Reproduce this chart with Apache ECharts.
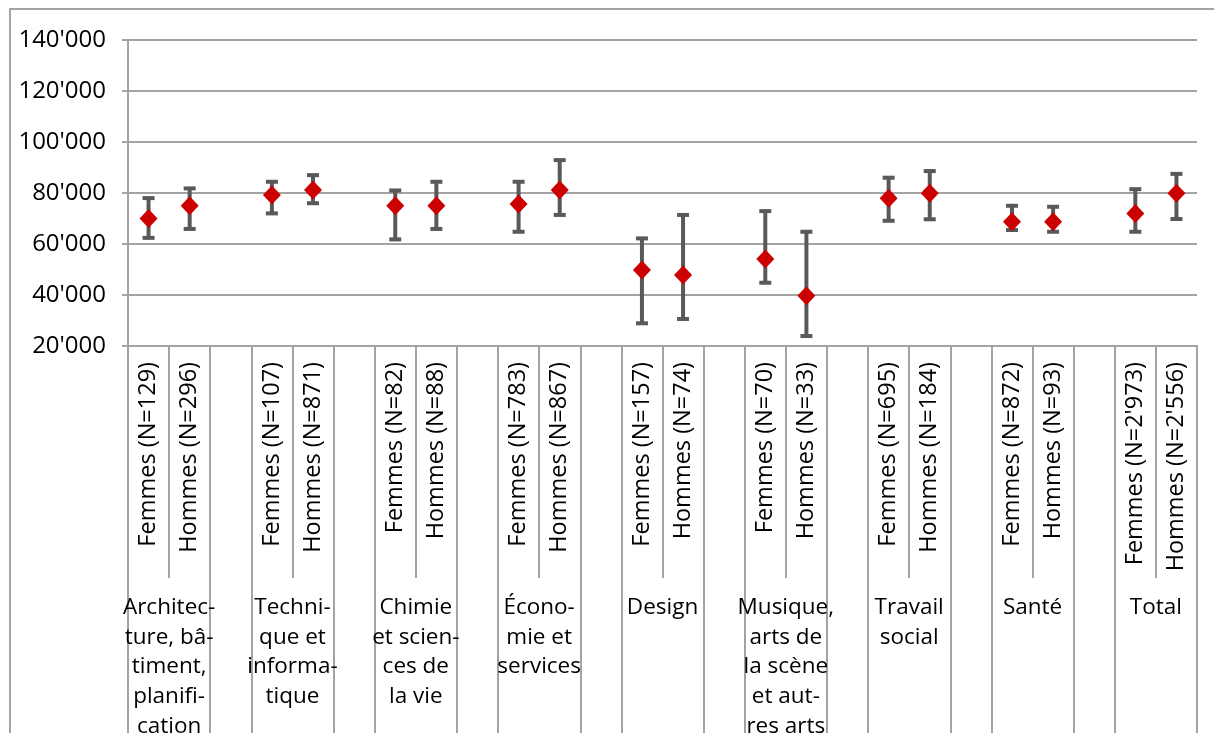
<!DOCTYPE html>
<html>
<head>
<meta charset="utf-8">
<script src="https://cdn.jsdelivr.net/npm/echarts@6/dist/echarts.min.js"></script>
<style>
html,body{margin:0;padding:0;background:#fff;}
#chart{width:1214px;height:733px;}
</style>
</head>
<body>
<div id="chart"></div>
<script>
const groups = [
  "Architec-\nture, bâ-\ntiment,\nplanifi-\ncation",
  "Techni-\nque et\ninforma-\ntique",
  "Chimie\net scien-\nces de\nla vie",
  "Écono-\nmie et\nservices",
  "Design",
  "Musique,\narts de\nla scène\net aut-\nres arts",
  "Travail\nsocial",
  "Santé",
  "Total"
];
const femmesN = ["129", "107", "82", "783", "157", "70", "695", "872", "2'973"];
const hommesN = ["296", "871", "88", "867", "74", "33", "184", "93", "2'556"];
const femmesMean = [70000, 79200, 75000, 75700, 49800, 54100, 77900, 68700, 72000];
const femmesLow  = [62400, 72000, 61800, 64800, 28900, 44800, 69100, 65500, 64800];
const femmesHigh = [78000, 84400, 81000, 84400, 62200, 72900, 86000, 75000, 81500];
const hommesMean = [75000, 81200, 75000, 81200, 47800, 39700, 79900, 68700, 79900];
const hommesLow  = [65900, 76000, 65900, 71400, 30600, 23900, 69700, 64800, 69800];
const hommesHigh = [81800, 87000, 84400, 92900, 71400, 64800, 88600, 74600, 87500];
const yMin = 20000, yMax = 140000, yStep = 20000;

// build slot categories: F, H, gap per group (no gap after last)
const slotLabels = [];
const meanData = [];
const errData = [];
groups.forEach((g, i) => {
  const f = slotLabels.length;
  slotLabels.push("Femmes (N=" + femmesN[i] + ")");
  slotLabels.push("Hommes (N=" + hommesN[i] + ")");
  meanData.push([f, femmesMean[i]]);
  meanData.push([f + 1, hommesMean[i]]);
  errData.push([f, femmesLow[i], femmesHigh[i]]);
  errData.push([f + 1, hommesLow[i], hommesHigh[i]]);
  if (i < groups.length - 1) slotLabels.push("");
});
// boundary axis: slotLabels.length+1 points; group label at boundary between F and H
const boundaryLabels = [];
for (let k = 0; k <= slotLabels.length; k++) boundaryLabels.push("");
groups.forEach((g, i) => { boundaryLabels[3 * i + 1] = g; });

const FONT = '"Open Sans", sans-serif';
const GREY = '#a3a3a3';

const chart = echarts.init(document.getElementById('chart'));
chart.setOption({
  animation: false,
  backgroundColor: '#fff',
  graphic: [{
    type: 'rect', z: -10,
    shape: { x: 10, y: 9, width: 1400, height: 1000 },
    style: { fill: 'none', stroke: '#a3a3a3', lineWidth: 2 }
  }],
  grid: { left: 128, top: 40, right: 17, bottom: 387, containLabel: false, outerBoundsMode: 'none' },
  xAxis: [{
    type: 'category',
    data: slotLabels,
    boundaryGap: true,
    axisLine: { show: true, lineStyle: { color: GREY, width: 2 } },
    axisTick: { show: true, interval: 0, length: 232, lineStyle: { color: GREY, width: 2 } },
    axisLabel: { interval: 0, rotate: 90, margin: 16, color: '#000', fontFamily: FONT, fontSize: 23.5 },
    splitLine: { show: false }
  }, {
    type: 'category',
    data: boundaryLabels,
    boundaryGap: false,
    position: 'bottom',
    axisLine: { show: false },
    axisTick: { show: true, interval: (idx) => idx % 3 !== 1, length: 420, lineStyle: { color: GREY, width: 2 } },
    axisLabel: { interval: 0, margin: 247, color: '#000', fontFamily: FONT, fontSize: 22.5, lineHeight: 29.6, align: 'center' },
    splitLine: { show: false }
  }],
  yAxis: {
    type: 'value',
    min: yMin, max: yMax, interval: yStep,
    axisLine: { show: true, lineStyle: { color: GREY, width: 2 } },
    axisTick: { show: true, length: 6, lineStyle: { color: GREY, width: 2 } },
    axisLabel: {
      margin: 22, color: '#000', fontFamily: FONT, fontSize: 24,
      formatter: v => String(v).replace(/\B(?=(\d{3})+(?!\d))/g, "'")
    },
    splitLine: { show: true, lineStyle: { color: GREY, width: 2 } }
  },
  series: [{
    type: 'custom',
    xAxisIndex: 0,
    data: errData,
    encode: { x: 0, y: [1, 2] },
    z: 3,
    renderItem: function (params, api) {
      const lo = api.coord([api.value(0), api.value(1)]);
      const hi = api.coord([api.value(0), api.value(2)]);
      const style = { stroke: '#595959', lineWidth: 4 };
      const hw = 6;
      return {
        type: 'group',
        children: [
          { type: 'line', shape: { x1: lo[0], y1: lo[1], x2: hi[0], y2: hi[1] }, style: style },
          { type: 'line', shape: { x1: hi[0] - hw, y1: hi[1], x2: hi[0] + hw, y2: hi[1] }, style: style },
          { type: 'line', shape: { x1: lo[0] - hw, y1: lo[1], x2: lo[0] + hw, y2: lo[1] }, style: style }
        ]
      };
    }
  }, {
    type: 'scatter',
    xAxisIndex: 0,
    data: meanData,
    symbol: 'diamond',
    symbolSize: [18, 19],
    itemStyle: { color: '#cc0000', opacity: 1 },
    z: 5
  }]
});
</script>
</body>
</html>
